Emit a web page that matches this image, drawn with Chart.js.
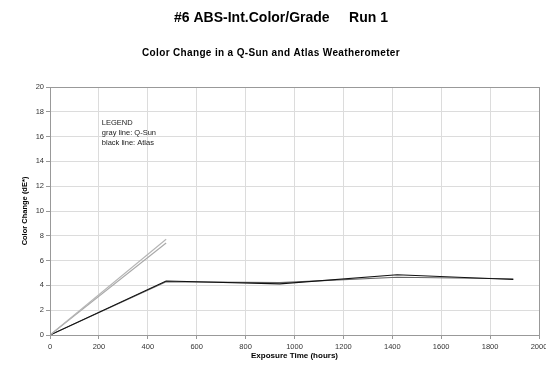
<!DOCTYPE html>
<html>
<head>
<meta charset="utf-8">
<script src="https://cdn.jsdelivr.net/npm/chart.js@4/dist/chart.umd.min.js"></script>
<style>
  html, body { margin: 0; padding: 0; background: #fff; }
  #wrap { width: 546px; height: 366px; position: relative; }
</style>
</head>
<body>
<div id="wrap"><canvas id="c" width="546" height="366"></canvas></div>
<script>
// Exposure times (hours) and colour change readings (dE*)
const qsunHours = [0, 475];
const qsunRunA = [0, 7.72];
const qsunRunB = [0, 7.42];

const atlasHours = [0, 475, 940, 1420, 1895];
const atlasRunA = [0, 4.36, 4.12, 4.86, 4.48];
const atlasRunB = [0, 4.30, 4.22, 4.66, 4.54];

const xTicks = [0, 200, 400, 600, 800, 1000, 1200, 1400, 1600, 1800, 2000];
const yTicks = [0, 2, 4, 6, 8, 10, 12, 14, 16, 18, 20];

const mainTitle = '#6 ABS-Int.Color/Grade     Run 1';
const subTitle = 'Color Change in a Q-Sun and Atlas Weatherometer';
const legendLines = ['LEGEND', 'gray line: Q-Sun', 'black line: Atlas'];

const toPoints = (xs, ys) => xs.map((x, i) => ({ x: x, y: ys[i] }));

const FONT = '"Liberation Sans", Arial, sans-serif';

// Headings and the in-plot note
const textPlugin = {
  id: 'textPlugin',
  afterDraw(chart) {
    const ctx = chart.ctx;
    ctx.save();
    ctx.fillStyle = '#000';
    ctx.textAlign = 'center';
    ctx.textBaseline = 'middle';
    ctx.font = 'bold 14px ' + FONT;
    ctx.fillText(mainTitle, 281, 18);
    ctx.font = 'bold 10px ' + FONT;
    ctx.letterSpacing = '0.35px';
    ctx.fillText(subTitle, 271, 53);
    ctx.letterSpacing = '0px';

    const xs = chart.scales.x, ys = chart.scales.y;
    ctx.textAlign = 'left';
    ctx.font = '7.5px ' + FONT;
    ctx.fillStyle = '#222';
    const lx = xs.getPixelForValue(212);
    const ly = ys.getPixelForValue(17.1);
    legendLines.forEach((t, i) => ctx.fillText(t, lx, ly + i * 10));
    ctx.restore();
  }
};

const plainNumber = v => String(v);

new Chart(document.getElementById('c'), {
  type: 'line',
  data: {
    datasets: [
      { label: 'Q-Sun A', data: toPoints(qsunHours, qsunRunA), borderColor: '#b4b4b4', borderWidth: 1.1 },
      { label: 'Q-Sun B', data: toPoints(qsunHours, qsunRunB), borderColor: '#a8a8a8', borderWidth: 1.1 },
      { label: 'Atlas A', data: toPoints(atlasHours, atlasRunA), borderColor: '#111', borderWidth: 1.1 },
      { label: 'Atlas B', data: toPoints(atlasHours, atlasRunB), borderColor: '#666', borderWidth: 1.1 }
    ]
  },
  options: {
    responsive: false,
    animation: false,
    devicePixelRatio: 1,
    layout: { padding: { top: 87, right: 7, left: 0, bottom: 0 } },
    elements: { point: { radius: 0 }, line: { tension: 0 } },
    plugins: { legend: { display: false }, tooltip: { enabled: false }, title: { display: false } },
    scales: {
      x: {
        type: 'linear', min: 0, max: 2000,
        afterBuildTicks(s) { s.ticks = xTicks.map(v => ({ value: v })); },
        afterFit(s) { s.height = 31; s.paddingLeft = 0; s.paddingRight = 0; },
        grid: { color: '#dcdcdc', lineWidth: 1, tickLength: 4, tickColor: '#999' },
        border: { color: '#999' },
        ticks: { font: { family: FONT, size: 7.5 }, color: '#333', padding: 3, maxRotation: 0, callback: plainNumber },
        title: { display: true, text: 'Exposure Time (hours)', font: { family: FONT, size: 8, weight: 'bold' }, color: '#000', padding: { top: 0, bottom: 5 } }
      },
      y: {
        type: 'linear', min: 0, max: 20,
        afterBuildTicks(s) { s.ticks = yTicks.map(v => ({ value: v })); },
        afterFit(s) { s.width = 50; s.paddingTop = 0; s.paddingBottom = 0; },
        grid: { color: '#dcdcdc', lineWidth: 1, tickLength: 4, tickColor: '#999' },
        border: { color: '#999' },
        ticks: { font: { family: FONT, size: 7.5 }, color: '#333', padding: 2, callback: plainNumber },
        title: { display: true, text: 'Color Change (dE*)', font: { family: FONT, size: 7.5, weight: 'bold' }, color: '#000', padding: { top: 20, bottom: 0 } }
      }
    }
  },
  plugins: [textPlugin, {
    id: 'frame',
    afterDraw(chart) {
      const a = chart.chartArea, ctx = chart.ctx;
      ctx.save();
      ctx.strokeStyle = '#999';
      ctx.lineWidth = 1;
      ctx.strokeRect(Math.round(a.left) + 0.5, Math.round(a.top) + 0.5, Math.round(a.right - a.left), Math.round(a.bottom - a.top));
      ctx.restore();
    }
  }]
});
</script>
</body>
</html>
